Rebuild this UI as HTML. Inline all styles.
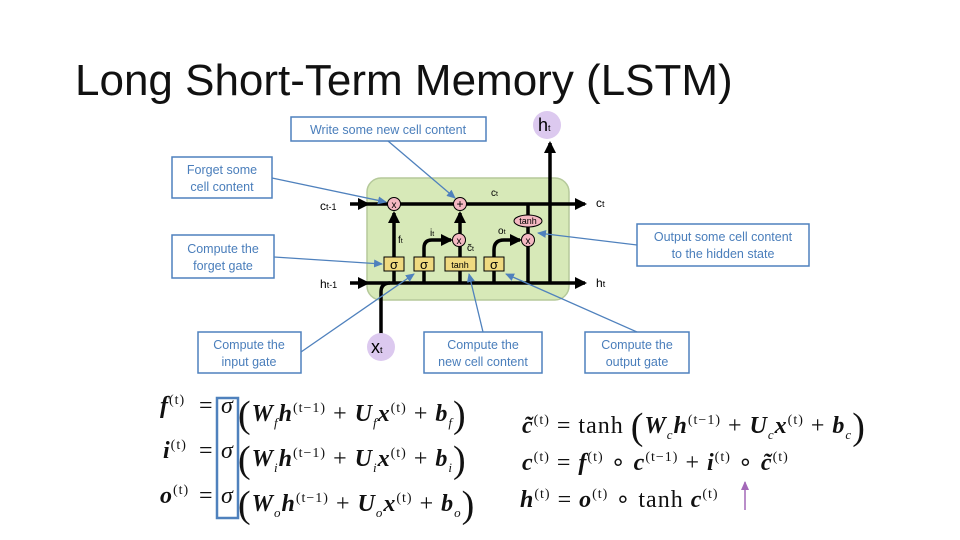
<!DOCTYPE html>
<html><head><meta charset="utf-8"><style>
body{margin:0;width:960px;height:540px;background:#fff;overflow:hidden;position:relative;font-family:"Liberation Sans",sans-serif}
.t{position:absolute;left:75px;top:56px;font-size:44px;color:#111}
.eq{position:absolute;font-family:"Liberation Serif",serif;font-size:24px;color:#111;white-space:nowrap;letter-spacing:1px}
.eq b{font-style:italic}
sup{font-size:14px}
sub{font-size:13px}
.p{font-size:38px;vertical-align:-6px;font-weight:normal}
</style></head><body>
<div class="t">Long Short-Term Memory (LSTM)</div>
<svg width="960" height="540" style="position:absolute;left:0;top:0" font-family="Liberation Sans, sans-serif">
<defs>
<marker id="a" markerUnits="userSpaceOnUse" markerWidth="14" markerHeight="14" refX="10" refY="7" orient="auto"><path d="M0,1L12,7L0,13z" fill="#000"/></marker>
<marker id="b" markerUnits="userSpaceOnUse" markerWidth="10" markerHeight="10" refX="8" refY="5" orient="auto"><path d="M0,1L9,5L0,9z" fill="#4f81bd"/></marker>
<marker id="c" markerUnits="userSpaceOnUse" markerWidth="10" markerHeight="10" refX="8" refY="5" orient="auto"><path d="M0,1L9,5L0,9z" fill="#a368b8"/></marker>
</defs>
<rect x="367" y="178" width="202" height="122" rx="14" fill="#d7e9b8" stroke="#b5c99a" stroke-width="1.5"/>
<g stroke="#000" stroke-width="3.5" fill="none">
<line x1="350" y1="204" x2="368" y2="204" marker-end="url(#a)"/>
<line x1="368" y1="204" x2="585" y2="204" marker-end="url(#a)"/>
<line x1="350" y1="283" x2="368" y2="283" marker-end="url(#a)"/>
<path d="M368,283H528M528,246V283H585" marker-end="url(#a)"/>
<line x1="550" y1="283" x2="550" y2="143" marker-end="url(#a)"/>
<path d="M381,335V292Q381,283 390,283"/>
<line x1="394" y1="283" x2="394" y2="213" marker-end="url(#a)"/>
<path d="M424,283V248Q424,240 432,240H451" marker-end="url(#a)"/>
<line x1="460" y1="283" x2="460" y2="213" marker-end="url(#a)"/>
<path d="M494,283V250Q494,240 504,240H520" marker-end="url(#a)"/>
<line x1="528" y1="204" x2="528" y2="233"/>
</g>
<g stroke="#000" stroke-width="1" fill="#f4b8c2">
<circle cx="394" cy="204" r="6.5"/><circle cx="460" cy="204" r="6.5"/>
<circle cx="459" cy="240" r="6.5"/><circle cx="528" cy="240" r="6.5"/>
<ellipse cx="528" cy="221" rx="14" ry="6"/>
</g>
<g font-size="10" text-anchor="middle" fill="#000">
<text x="394" y="208">x</text><text x="460" y="208" font-size="12">+</text>
<text x="459" y="244">x</text><text x="528" y="244">x</text><text x="528" y="224" font-size="9">tanh</text>
</g>
<g stroke="#000" stroke-width="1" fill="#f0da80">
<rect x="384" y="257" width="20" height="14"/><rect x="414" y="257" width="20" height="14"/>
<rect x="445" y="257" width="31" height="14"/><rect x="484" y="257" width="20" height="14"/>
</g>
<g font-size="13" text-anchor="middle" fill="#000">
<text x="394" y="269">σ</text><text x="424" y="269">σ</text><text x="494" y="269">σ</text><text x="460" y="268" font-size="9">tanh</text>
</g>
<g font-size="12" fill="#000">
<text x="320" y="210">c<tspan font-size="9">t-1</tspan></text>
<text x="320" y="288">h<tspan font-size="9">t-1</tspan></text>
<text x="596" y="207">c<tspan font-size="9">t</tspan></text>
<text x="596" y="287">h<tspan font-size="9">t</tspan></text>
<text x="491" y="196" font-size="10">c<tspan font-size="7">t</tspan></text>
<text x="398" y="243" font-size="10">f<tspan font-size="7">t</tspan></text>
<text x="430" y="236" font-size="10">i<tspan font-size="7">t</tspan></text>
<text x="498" y="234" font-size="10">o<tspan font-size="7">t</tspan></text>
<text x="467" y="251" font-size="10">c̃<tspan font-size="7">t</tspan></text>
</g>
<circle cx="547" cy="125" r="14" fill="#dcc9ef"/>
<text x="538" y="131" font-size="18">h<tspan font-size="9">t</tspan></text>
<circle cx="381" cy="347" r="14" fill="#dcc9ef"/>
<text x="371" y="353" font-size="18">x<tspan font-size="9">t</tspan></text>
<g fill="#fff" stroke="#4f81bd" stroke-width="1.5">
<rect x="291" y="117" width="195" height="24"/>
<rect x="172" y="157" width="100" height="41"/>
<rect x="172" y="235" width="102" height="43"/>
<rect x="637" y="224" width="172" height="42"/>
<rect x="198" y="332" width="103" height="41"/>
<rect x="424" y="332" width="118" height="41"/>
<rect x="585" y="332" width="104" height="41"/>
</g>
<g font-size="12.5" fill="#4a7ebb" text-anchor="middle">
<text x="388" y="134">Write some new cell content</text>
<text x="222" y="174">Forget some</text><text x="222" y="191">cell content</text>
<text x="223" y="253">Compute the</text><text x="223" y="270">forget gate</text>
<text x="723" y="241">Output some cell content</text><text x="723" y="258">to the hidden state</text>
<text x="249" y="349">Compute the</text><text x="249" y="366">input gate</text>
<text x="483" y="349">Compute the</text><text x="483" y="366">new cell content</text>
<text x="637" y="349">Compute the</text><text x="637" y="366">output gate</text>
</g>
<g stroke="#4f81bd" stroke-width="1.3" fill="none">
<line x1="388" y1="141" x2="455" y2="198" marker-end="url(#b)"/>
<line x1="272" y1="178" x2="386" y2="202" marker-end="url(#b)"/>
<line x1="274" y1="257" x2="382" y2="264" marker-end="url(#b)"/>
<line x1="637" y1="245" x2="538" y2="233" marker-end="url(#b)"/>
<line x1="301" y1="352" x2="414" y2="274" marker-end="url(#b)"/>
<line x1="483" y1="332" x2="469" y2="274" marker-end="url(#b)"/>
<line x1="637" y1="332" x2="506" y2="274" marker-end="url(#b)"/>
</g>
<rect x="217" y="398" width="21" height="120" fill="none" stroke="#4f81bd" stroke-width="2.5"/>
<line x1="745" y1="510" x2="745" y2="482" stroke="#a368b8" stroke-width="1.5" marker-end="url(#c)"/>
</svg>
<div class="eq" style="left:160px;top:393px"><b>f</b><sup>(t)</sup></div>
<div class="eq" style="left:163px;top:438px"><b>i</b><sup>(t)</sup></div>
<div class="eq" style="left:160px;top:483px"><b>o</b><sup>(t)</sup></div>
<div class="eq" style="left:199px;top:393px">=</div>
<div class="eq" style="left:199px;top:438px">=</div>
<div class="eq" style="left:199px;top:483px">=</div>
<div class="eq" style="left:221px;top:393px"><i>σ</i></div>
<div class="eq" style="left:221px;top:438px"><i>σ</i></div>
<div class="eq" style="left:221px;top:483px"><i>σ</i></div>
<div class="eq" style="left:238px;top:393px"><span class="p">(</span><b>W</b><sub><i>f</i></sub><b>h</b><sup>(t−1)</sup> + <b>U</b><sub><i>f</i></sub><b>x</b><sup>(t)</sup> + <b>b</b><sub><i>f</i></sub><span class="p">)</span></div>
<div class="eq" style="left:238px;top:438px"><span class="p">(</span><b>W</b><sub><i>i</i></sub><b>h</b><sup>(t−1)</sup> + <b>U</b><sub><i>i</i></sub><b>x</b><sup>(t)</sup> + <b>b</b><sub><i>i</i></sub><span class="p">)</span></div>
<div class="eq" style="left:238px;top:483px"><span class="p">(</span><b>W</b><sub><i>o</i></sub><b>h</b><sup>(t−1)</sup> + <b>U</b><sub><i>o</i></sub><b>x</b><sup>(t)</sup> + <b>b</b><sub><i>o</i></sub><span class="p">)</span></div>
<div class="eq" style="left:522px;top:405px"><b>c̃</b><sup>(t)</sup> = tanh <span class="p">(</span><b>W</b><sub><i>c</i></sub><b>h</b><sup>(t−1)</sup> + <b>U</b><sub><i>c</i></sub><b>x</b><sup>(t)</sup> + <b>b</b><sub><i>c</i></sub><span class="p">)</span></div>
<div class="eq" style="left:522px;top:448px"><b>c</b><sup>(t)</sup> = <b>f</b><sup>(t)</sup> ∘ <b>c</b><sup>(t−1)</sup> + <b>i</b><sup>(t)</sup> ∘ <b>c̃</b><sup>(t)</sup></div>
<div class="eq" style="left:520px;top:485px"><b>h</b><sup>(t)</sup> = <b>o</b><sup>(t)</sup> ∘ tanh <b>c</b><sup>(t)</sup></div>
</body></html>
